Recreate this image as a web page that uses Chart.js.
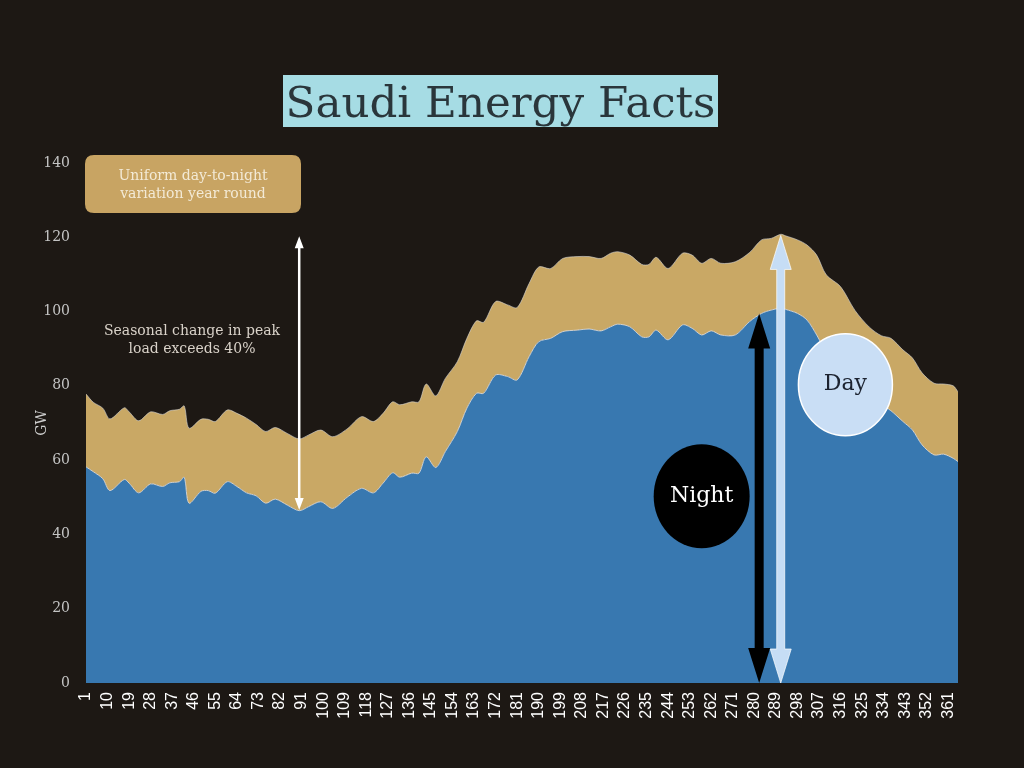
<!DOCTYPE html>
<html>
<head>
<meta charset="utf-8">
<title>Saudi Energy Facts</title>
<script src="https://cdn.jsdelivr.net/npm/chart.js@4.4.1/dist/chart.umd.min.js"></script>
<style>
  html, body { margin: 0; padding: 0; background: #1d1814; }
  #wrap { width: 1024px; height: 768px; position: relative; }
</style>
</head>
<body>
<div id="wrap"><canvas id="loadChart" width="1024" height="768"></canvas></div>
<script>
const days = [1, 4, 8, 11, 17, 19, 23, 28, 33, 36, 40, 42, 44, 49, 52, 55, 60, 64, 68, 72,
  76, 80, 85, 90, 94, 99, 104, 110, 116, 121, 125, 129, 132, 137, 140, 143, 147, 151, 156, 160,
  164, 167, 172, 177, 181, 186, 190, 195, 200, 206, 211, 216, 220, 223, 228, 233, 236, 239, 244, 250,
  254, 258, 262, 266, 272, 278, 283, 287, 291, 293, 298, 302, 306, 310, 316, 322, 328, 333, 337, 342,
  346, 350, 355, 359, 363, 365];

// night (base) load, GW
const nightGW = [58.2, 56.9, 55.0, 51.8, 54.8, 53.8, 51.2, 53.6, 52.9, 53.9, 54.2, 55.4, 48.4, 51.6, 51.8, 51.1, 54.2, 52.9, 51.2, 50.4,
  48.4, 49.5, 47.9, 46.4, 47.5, 48.8, 47.0, 50.0, 52.4, 51.2, 53.8, 56.6, 55.4, 56.5, 56.5, 60.9, 58.0, 62.3, 67.7, 74.0,
  78.0, 78.0, 82.9, 82.5, 81.6, 87.9, 91.9, 92.8, 94.6, 95.0, 95.3, 94.8, 95.9, 96.6, 95.9, 93.2, 93.2, 95.0, 92.4, 96.4,
  95.5, 93.7, 94.8, 93.7, 93.7, 97.3, 99.5, 100.4, 100.9, 100.6, 99.5, 97.7, 93.7, 89.0, 84.0, 80.0, 77.0, 75.0, 73.3, 70.4,
  68.1, 64.1, 61.4, 61.6, 60.5, 59.6];

// day (peak) load, GW
const dayGW = [77.8, 75.6, 74.0, 71.1, 74.1, 73.0, 70.6, 73.0, 72.3, 73.3, 73.7, 74.6, 68.6, 71.0, 71.0, 70.4, 73.5, 72.6, 71.3, 69.6,
  67.7, 68.8, 67.2, 65.7, 66.8, 68.1, 66.3, 68.4, 71.7, 70.4, 72.6, 75.7, 74.9, 75.7, 75.7, 80.5, 77.3, 82.0, 86.5, 92.8,
  97.5, 97.1, 102.7, 101.8, 101.1, 107.6, 112.0, 111.6, 114.3, 114.8, 114.8, 114.3, 115.7, 116.1, 115.2, 112.7, 112.7, 114.6, 111.6, 115.7,
  115.2, 113.0, 114.3, 113.0, 113.4, 115.9, 119.3, 119.7, 120.8, 120.4, 119.3, 117.9, 115.2, 109.9, 106.7, 100.3, 95.8, 93.5, 92.8, 89.7,
  87.5, 83.5, 80.7, 80.5, 80.0, 78.4];

// x tick labels
const tickDays = [1, 10, 19, 28, 37, 46, 55, 64, 73, 82, 91, 100, 109, 118, 127, 136, 145, 154, 163, 172,
  181, 190, 199, 208, 217, 226, 235, 244, 253, 262, 271, 280, 289, 298, 307, 316, 325, 334, 343, 352, 361];

const yTicks = [0, 20, 40, 60, 80, 100, 120, 140];

const SERIF = "'DejaVu Serif', 'Liberation Serif', serif";
const BLUE = '#3878b0';
const TAN = '#c9a865';

function xy(arr) {
  var out = [];
  for (var i in days) {
    out.push({ x: days[i], y: arr[i] });
  }
  return out;
}

function arrow(ctx, x, yTop, yBot, shaftW, headW, headH, fill, stroke) {
  ctx.save();
  ctx.beginPath();
  ctx.moveTo(x, yTop);
  ctx.lineTo(x + headW / 2, yTop + headH);
  ctx.lineTo(x + shaftW / 2, yTop + headH);
  ctx.lineTo(x + shaftW / 2, yBot - headH);
  ctx.lineTo(x + headW / 2, yBot - headH);
  ctx.lineTo(x, yBot);
  ctx.lineTo(x - headW / 2, yBot - headH);
  ctx.lineTo(x - shaftW / 2, yBot - headH);
  ctx.lineTo(x - shaftW / 2, yTop + headH);
  ctx.lineTo(x - headW / 2, yTop + headH);
  ctx.closePath();
  ctx.fillStyle = fill;
  ctx.fill();
  if (stroke) {
    ctx.strokeStyle = stroke;
    ctx.lineWidth = 1;
    ctx.stroke();
  }
  ctx.restore();
}

function roundBox(ctx, x, y, w, h, r) {
  ctx.beginPath();
  ctx.moveTo(x + r, y);
  ctx.lineTo(x + w - r, y);
  ctx.quadraticCurveTo(x + w, y, x + w, y + r);
  ctx.lineTo(x + w, y + h - r);
  ctx.quadraticCurveTo(x + w, y + h, x + w - r, y + h);
  ctx.lineTo(x + r, y + h);
  ctx.quadraticCurveTo(x, y + h, x, y + h - r);
  ctx.lineTo(x, y + r);
  ctx.quadraticCurveTo(x, y, x + r, y);
  ctx.closePath();
}

// background, title and text notes
const decor = {
  id: 'decor',
  beforeDraw: function (chart) {
    const ctx = chart.ctx;
    ctx.save();
    ctx.fillStyle = '#1d1814';
    ctx.fillRect(0, 0, chart.width, chart.height);
    ctx.restore();
  },
  afterDatasetsDraw: function (chart) {
    const ctx = chart.ctx;
    const xs = chart.scales.x;
    const ys = chart.scales.y;

    // seasonal arrow (white, thin)
    arrow(ctx, xs.getPixelForValue(90), ys.getPixelForValue(120.3), ys.getPixelForValue(46.6), 2.5, 9, 12, '#ffffff');

    // night arrow
    arrow(ctx, xs.getPixelForValue(282), ys.getPixelForValue(99.5), ys.getPixelForValue(0), 9, 22, 35, '#000000');
    // day arrow
    arrow(ctx, xs.getPixelForValue(291), ys.getPixelForValue(120.5), ys.getPixelForValue(0), 8, 21, 34, '#c6ddf5', 'rgba(255,255,255,0.7)');

    // Night bubble
    ctx.save();
    ctx.beginPath();
    ctx.ellipse(xs.getPixelForValue(258), ys.getPixelForValue(50.3), 48, 52, 0, 0, Math.PI * 2);
    ctx.fillStyle = '#000000';
    ctx.fill();
    ctx.fillStyle = '#ffffff';
    ctx.font = '22px ' + SERIF;
    ctx.textAlign = 'center';
    ctx.textBaseline = 'middle';
    ctx.fillText('Night', xs.getPixelForValue(258), ys.getPixelForValue(50.3));

    // Day bubble
    ctx.beginPath();
    ctx.ellipse(xs.getPixelForValue(318), ys.getPixelForValue(80.3), 47, 51, 0, 0, Math.PI * 2);
    ctx.fillStyle = '#c9def5';
    ctx.fill();
    ctx.strokeStyle = '#ffffff';
    ctx.lineWidth = 1.5;
    ctx.stroke();
    ctx.fillStyle = '#1c2330';
    ctx.fillText('Day', xs.getPixelForValue(318), ys.getPixelForValue(80.3));
    ctx.restore();
  },
  afterDraw: function (chart) {
    const ctx = chart.ctx;
    ctx.save();

    // title
    ctx.fillStyle = '#a6dce4';
    ctx.fillRect(283, 75, 435, 52);
    var size = 44;
    ctx.font = size + 'px ' + SERIF;
    var w = ctx.measureText('Saudi Energy Facts').width;
    size = size * 430 / w;
    ctx.font = size + 'px ' + SERIF;
    ctx.fillStyle = '#2a363b';
    ctx.textAlign = 'center';
    ctx.textBaseline = 'alphabetic';
    ctx.fillText('Saudi Energy Facts', 500.5, 117);

    // tan note box
    roundBox(ctx, 85, 155, 216, 58, 9);
    ctx.fillStyle = '#c8a463';
    ctx.fill();
    ctx.font = '14px ' + SERIF;
    ctx.fillStyle = '#f3ead6';
    ctx.textBaseline = 'middle';
    ctx.fillText('Uniform day-to-night', 193, 176);
    ctx.fillText('variation year round', 193, 194);

    // seasonal note
    ctx.fillStyle = '#d9d2c9';
    ctx.fillText('Seasonal change in peak', 192, 331);
    ctx.fillText('load exceeds 40%', 192, 349);
    ctx.restore();
  }
};

const ctx = document.getElementById('loadChart').getContext('2d');
const myChart = new Chart(ctx, {
  type: 'line',
  data: {
    datasets: [{
      label: 'Night',
      data: xy(nightGW),
      backgroundColor: BLUE,
      borderColor: 'rgba(225,225,225,0.85)',
      borderWidth: 1,
      fill: 'origin',
      pointRadius: 0,
      tension: 0.3
    }, {
      label: 'Day',
      data: xy(dayGW),
      backgroundColor: TAN,
      borderColor: 'rgba(215,215,215,0.6)',
      borderWidth: 1,
      fill: '-1',
      pointRadius: 0,
      tension: 0.3
    }]
  },
  options: {
    responsive: false,
    animation: false,
    layout: {
      padding: { top: 163, right: 66, bottom: 0, left: 30 }
    },
    plugins: {
      legend: { display: false },
      tooltip: { enabled: false }
    },
    scales: {
      x: {
        type: 'linear',
        min: 1,
        max: 365,
        afterBuildTicks: function (scale) {
          scale.ticks = tickDays.map(function (v) { return { value: v }; });
        },
        afterFit: function (scale) { scale.height = 85; },
        grid: { display: false, drawTicks: false },
        border: { display: false },
        ticks: {
          autoSkip: false,
          minRotation: 90,
          maxRotation: 90,
          padding: 9,
          color: '#ffffff',
          font: { family: "'Liberation Sans', Arial, sans-serif", size: 16 }
        }
      },
      y: {
        min: 0,
        max: 140,
        afterBuildTicks: function (scale) {
          scale.ticks = yTicks.map(function (v) { return { value: v }; });
        },
        afterFit: function (scale) { scale.width = 56; },
        grid: { display: false, drawTicks: false },
        border: { display: false },
        title: {
          display: true,
          text: 'GW',
          color: '#cfcfcf',
          padding: 4,
          font: { family: SERIF, size: 14 }
        },
        ticks: {
          padding: 16,
          color: '#c4c4c4',
          font: { family: SERIF, size: 14 }
        }
      }
    }
  },
  plugins: [decor]
});
</script>
</body>
</html>
